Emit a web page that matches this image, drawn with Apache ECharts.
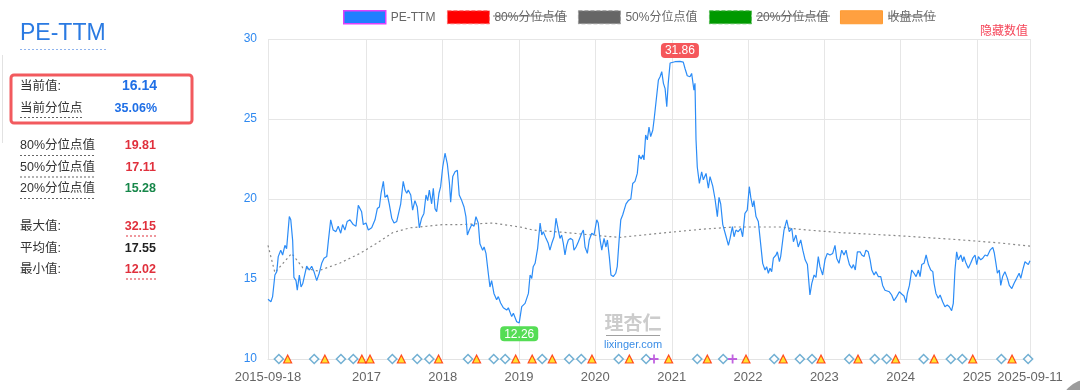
<!DOCTYPE html>
<html>
<head>
<meta charset="utf-8">
<script src="https://cdn.jsdelivr.net/npm/echarts@6/dist/echarts.min.js"></script>
<style>
html,body{margin:0;padding:0;background:#fff;}
#chart{width:1080px;height:390px;}
</style>
</head>
<body>
<div id="chart"></div>
<script>
// ---------------- data ----------------
const START_DATE = '2015-09-18';
const END_DATE = '2025-09-11';
const BASE_VALUE = 10;
const MAX_LABEL = '31.86';
const MIN_LABEL = '12.26';

const legendNames = ['PE-TTM', '80%分位点值', '50%分位点值', '20%分位点值', '收盘点位'];
const yTicks = [10, 15, 20, 25, 30];
const xTickDates = ['2015-09-18','2017-01-01','2018-01-01','2019-01-01','2020-01-01','2021-01-01','2022-01-01','2023-01-01','2024-01-01','2025-01-01','2025-09-11'];
const xTickLabels = ['2015-09-18','2017','2018','2019','2020','2021','2022','2023','2024','2025','2025-09-11'];

// PE-TTM: [days since START_DATE, value]
const peData = [[0,13.73],[14,13.58],[22,13.9],[33,15.25],[42,15.46],[49,16.4],[61,16.8],[70,16.5],[81,17.1],[89,16.9],[102,18.9],[109,18.7],[118,17.4],[124,15.1],[134,14.9],[140,14.3],[150,15.25],[158,14.5],[166,14.7],[174,14.6],[185,15.8],[198,15.56],[209,15.8],[220,15.46],[233,14.9],[245,15.36],[257,15.98],[268,16.3],[281,16.4],[289,17.4],[300,18.7],[312,18.06],[325,17.96],[336,18.3],[348,17.86],[357,18.4],[368,18.06],[379,18.6],[392,18.7],[408,18.4],[421,18.3],[432,19.6],[440,19.7],[448,19.2],[456,18.4],[469,18.5],[480,18.06],[496,18.2],[512,18.7],[523,19.4],[533,19.5],[541,20.36],[552,21.1],[560,20.1],[571,20.25],[580,19.7],[592,18.8],[603,18.5],[616,18.6],[623,18.7],[635,19.7],[647,21.1],[656,20.56],[664,20.36],[671,20.56],[683,20.25],[692,19.3],[703,19.9],[714,19.5],[724,18.2],[735,18.8],[746,19.1],[756,20.25],[764,19.9],[772,20.56],[783,19.7],[791,20.67],[799,19.4],[807,19.2],[818,20.36],[826,20.77],[836,22.0],[847,22.86],[858,22.2],[868,21.0],[874,19.8],[884,21.4],[895,21.7],[906,21.8],[915,20.25],[927,19.9],[938,19.5],[947,18.9],[954,17.75],[963,18.06],[975,18.4],[986,18.3],[995,18.9],[1006,18.5],[1014,17.2],[1027,16.8],[1034,17.0],[1043,16.6],[1054,15.36],[1062,14.5],[1070,14.9],[1081,14.1],[1094,13.7],[1102,13.9],[1113,13.5],[1126,13.2],[1142,13.06],[1150,13.2],[1166,12.65],[1174,12.86],[1190,12.33],[1202,12.26],[1214,13.27],[1230,13.48],[1246,14.1],[1254,15.25],[1262,15.04],[1269,15.77],[1278,15.98],[1286,16.6],[1290,16.9],[1298,17.0],[1302,18.5],[1310,17.75],[1317,17.96],[1330,17.54],[1341,17.23],[1349,16.8],[1358,17.23],[1369,17.64],[1378,18.8],[1389,18.06],[1397,17.54],[1405,17.75],[1413,17.23],[1421,16.5],[1429,17.1],[1437,17.44],[1448,17.54],[1458,17.44],[1464,16.8],[1474,17.0],[1485,17.33],[1493,17.23],[1501,17.86],[1509,18.06],[1517,17.0],[1528,16.6],[1537,17.44],[1549,17.86],[1560,17.75],[1573,18.7],[1580,18.5],[1589,17.44],[1597,16.8],[1608,17.54],[1617,17.0],[1624,17.44],[1633,16.4],[1641,15.25],[1652,15.15],[1664,15.36],[1671,15.77],[1680,17.44],[1688,18.7],[1697,19.0],[1705,18.9],[1713,19.7],[1724,19.9],[1736,20.0],[1745,20.97],[1756,21.1],[1767,21.6],[1775,22.75],[1785,22.5],[1793,22.75],[1799,22.44],[1807,24.0],[1815,23.7],[1823,24.5],[1831,23.9],[1841,24.3],[1848,25.04],[1857,24.94],[1868,27.44],[1876,27.64],[1884,27.96],[1892,27.23],[1900,26.9],[1908,25.77],[1915,27.23],[1924,28.5],[1932,28.55],[1947,28.58],[1971,28.6],[1987,28.55],[1995,28.17],[2006,27.7],[2019,27.64],[2027,27.85],[2038,26.8],[2043,27.23],[2048,23.7],[2054,22.0],[2064,20.97],[2075,21.7],[2083,21.2],[2096,21.6],[2107,20.67],[2115,21.4],[2128,20.8],[2139,20.0],[2150,18.9],[2158,20.1],[2166,19.7],[2176,18.4],[2183,18.5],[2192,17.64],[2203,17.1],[2211,17.54],[2222,18.27],[2230,17.64],[2239,18.06],[2250,17.96],[2262,18.17],[2271,17.64],[2282,19.1],[2293,19.3],[2303,20.77],[2310,20.1],[2319,19.5],[2325,19.9],[2335,18.9],[2346,18.6],[2354,17.6],[2367,15.98],[2378,15.56],[2386,15.77],[2394,15.36],[2402,15.67],[2410,15.46],[2418,16.3],[2431,16.5],[2437,16.7],[2447,16.08],[2453,16.4],[2461,16.3],[2469,18.06],[2482,18.7],[2494,17.96],[2506,18.17],[2514,17.33],[2526,17.75],[2537,17.0],[2549,17.44],[2559,16.8],[2570,16.2],[2581,15.9],[2593,14.0],[2602,14.73],[2613,15.25],[2622,15.1],[2633,16.4],[2641,15.77],[2654,15.25],[2665,16.2],[2676,16.6],[2689,16.5],[2702,16.6],[2713,17.1],[2721,16.3],[2732,15.98],[2745,16.8],[2756,16.5],[2766,16.8],[2772,16.4],[2782,15.9],[2793,15.67],[2801,15.9],[2810,15.56],[2820,16.7],[2833,16.7],[2841,16.5],[2852,16.4],[2861,16.8],[2872,16.7],[2881,16.2],[2889,15.56],[2900,15.25],[2909,15.46],[2920,15.15],[2932,15.15],[2941,14.6],[2952,14.3],[2960,14.2],[2973,14.2],[2984,14.0],[2995,13.64],[3008,13.9],[3021,14.2],[3032,14.06],[3043,13.94],[3053,13.52],[3059,14.1],[3069,14.6],[3080,15.56],[3091,15.36],[3101,15.15],[3112,15.56],[3120,15.15],[3128,15.9],[3139,15.98],[3149,16.5],[3160,15.9],[3171,15.56],[3181,15.46],[3187,14.73],[3196,14.1],[3207,13.8],[3216,14.0],[3228,13.58],[3239,13.27],[3250,13.38],[3260,13.27],[3271,13.02],[3279,13.48],[3287,15.56],[3295,16.7],[3303,16.2],[3315,16.5],[3324,16.08],[3330,16.4],[3340,15.98],[3351,15.67],[3362,15.98],[3372,16.3],[3383,16.5],[3391,15.9],[3399,16.4],[3410,16.2],[3420,16.3],[3431,16.5],[3442,16.44],[3455,16.8],[3468,16.98],[3475,16.64],[3483,15.98],[3490,15.36],[3499,15.56],[3506,14.6],[3515,15.15],[3526,15.46],[3538,15.04],[3547,14.6],[3559,14.4],[3570,14.73],[3582,15.04],[3594,15.36],[3602,15.04],[3611,15.56],[3622,16.08],[3630,16.2],[3638,15.9],[3646,16.14]];

// 50% quantile line: [days since START_DATE, value]
const midData = [[0,17.1],[33,15.4],[113,16.6],[167,15.7],[239,15.5],[345,16.0],[440,16.6],[522,17.25],[598,17.9],[679,18.2],[761,18.3],[837,18.4],[919,18.4],[1077,18.5],[1206,18.25],[1268,18.06],[1431,17.9],[1589,17.7],[1684,17.6],[1909,17.9],[2067,18.1],[2225,18.25],[2450,18.25],[2546,18.1],[2737,17.9],[3024,17.7],[3311,17.45],[3503,17.25],[3646,17.06]];

// event markers on the bottom line
const reportDates = ['2015-11-09','2016-04-26','2016-09-01','2016-10-30','2017-05-05','2017-09-01','2017-10-29','2018-05-02','2018-09-02','2018-10-27','2019-04-22','2019-08-29','2019-10-26','2020-04-22','2020-08-31','2021-05-03','2021-09-04','2022-05-06','2022-09-06','2022-11-03','2023-04-30','2023-08-30','2023-10-26','2024-04-20','2024-08-28','2024-10-22','2025-04-27','2025-09-02'];
const dividendDates = ['2015-12-21','2016-06-16','2016-12-10','2017-01-18','2017-06-17','2017-12-12','2018-06-12','2018-12-16','2019-03-05','2019-06-09','2019-12-16','2020-06-12','2020-12-17','2021-06-20','2021-12-22','2022-06-18','2022-12-16','2023-06-11','2023-12-08','2024-06-09','2024-12-11','2025-06-17'];
const otherDates = ['2020-10-08','2021-10-19'];

// left panel stats
const panelTop = [['当前值:', '16.14'], ['当前分位点', '35.06%']];
const panelQuant = [['80%分位点值', '19.81'], ['50%分位点值', '17.11'], ['20%分位点值', '15.28']];
const panelStats = [['最大值:', '32.15'], ['平均值:', '17.55'], ['最小值:', '12.02']];

// ---------------- helpers ----------------
const DAY = 86400000;
function parseDate(s) { const p = s.split('-').map(Number); return Date.UTC(p[0], p[1] - 1, p[2]); }
const startTs = parseDate(START_DATE);
const endTs = parseDate(END_DATE);
const toTs = d => startTs + d * DAY;
const xTickTs = xTickDates.map(parseDate);

const FONT = "'Liberation Sans', Arial, 'Noto Sans CJK SC', sans-serif";

// ---------------- graphics (left panel, decorations) ----------------
const g = [];
function txt(x, y, text, fill, font, align) {
  g.push({ type: 'text', silent: true, style: { x: x, y: y, text: text, fill: fill, font: font, textAlign: align || 'left', textVerticalAlign: 'middle' } });
}
function ln(x1, y1, x2, y2, stroke, dash, w) {
  g.push({ type: 'line', silent: true, shape: { x1: x1, y1: y1, x2: x2, y2: y2 }, style: { stroke: stroke, lineWidth: w || 1, lineDash: dash || null } });
}
txt(20, 34, 'PE-TTM', '#2a7ae2', "23px " + FONT);
ln(20, 49.5, 106, 49.5, '#8fb4ee', [2, 2]);
ln(2.5, 55, 2.5, 143, '#e2e2e2');
g.push({ type: 'rect', silent: true, shape: { x: 11, y: 75, width: 181, height: 48, r: 3 }, style: { fill: 'none', stroke: '#f25a5e', lineWidth: 3 } });
const labFont = "12.5px " + FONT;
txt(20, 87, panelTop[0][0], '#333', labFont);
txt(157, 86, panelTop[0][1], '#1f6fe6', "bold 14px " + FONT, 'right');
txt(20, 109, panelTop[1][0], '#333', labFont);
ln(20, 117.5, 83, 117.5, '#666', [2, 2]);
txt(157, 109, panelTop[1][1], '#1f6fe6', "bold 12.5px " + FONT, 'right');
const qColors = ['#e0303c', '#e0303c', '#17874a'];
panelQuant.forEach((r, i) => {
  const y = 146 + i * 21.5;
  txt(20, y, r[0], '#333', labFont);
  ln(20, y + 9.5, 94, y + 9.5, '#666', [2, 2]);
  txt(156, y, r[1], qColors[i], "bold 12.5px " + FONT, 'right');
});
const sColors = ['#e0303c', '#222', '#e0303c'];
panelStats.forEach((r, i) => {
  const y = 227 + i * 21.5;
  txt(20, y, r[0], '#333', labFont);
  txt(156, y, r[1], sColors[i], "bold 12.5px " + FONT, 'right');
  if (i !== 1) ln(126, y + 9, 156, y + 9, '#e0303c', [2, 2]);
});
txt(1028, 32, '隐藏数值', '#f5475a', "12px " + FONT, 'right');
txt(633, 325, '理杏仁', '#cccccc', "bold 19px " + FONT, 'center');
ln(606, 335.5, 660, 335.5, '#a0a0a0');
txt(633, 345, 'lixinger.com', '#3a8de6', "11px " + FONT, 'center');
g.push({ type: 'circle', silent: true, shape: { cx: 1090, cy: 410, r: 31 }, style: { fill: '#9c9c9c' } });
ln(493, 16, 567, 16, '#777');
ln(756, 16, 830, 16, '#777');
ln(888, 16, 936, 16, '#777');

// ---------------- chart ----------------
const chart = echarts.init(document.getElementById('chart'), null, { renderer: 'canvas' });
const option = {
  animation: false,
  backgroundColor: '#fff',
  textStyle: { fontFamily: FONT },
  legend: {
    left: 343, top: 10, padding: 0, itemGap: 11.5, itemWidth: 42, itemHeight: 13,
    textStyle: { color: '#666', fontSize: 12 },
    selectedMode: false,
    data: [
      { name: legendNames[0], icon: 'rect', itemStyle: { color: '#1f7fff', borderColor: '#e040fb', borderWidth: 1.5 } },
      { name: legendNames[1], icon: 'rect', itemStyle: { color: '#ff0000', borderColor: '#ff6666', borderWidth: 1, borderType: 'dashed' } },
      { name: legendNames[2], icon: 'rect', itemStyle: { color: '#666666', borderColor: '#999999', borderWidth: 1, borderType: 'dashed' } },
      { name: legendNames[3], icon: 'rect', itemStyle: { color: '#009900', borderColor: '#55bb55', borderWidth: 1, borderType: 'dashed' } },
      { name: legendNames[4], icon: 'rect', itemStyle: { color: '#ffa040', borderColor: '#ff9a30', borderWidth: 1 } }
    ]
  },
  grid: { left: 268, right: 50, top: 39, bottom: 31, containLabel: false },
  xAxis: {
    type: 'value', min: startTs, max: endTs, scale: true,
    axisLine: { show: true, lineStyle: { color: '#e3e3e3' } },
    axisTick: { show: false, customValues: xTickTs },
    splitLine: { show: true, lineStyle: { color: '#e6e6e6', width: 1 } },
    axisLabel: {
      customValues: xTickTs, color: '#666', fontSize: 13, margin: 12,
      formatter: function (v) {
        const i = xTickTs.findIndex(t => Math.abs(t - v) < DAY / 2);
        return i >= 0 ? xTickLabels[i] : '';
      }
    }
  },
  yAxis: {
    type: 'value', min: yTicks[0], max: yTicks[yTicks.length - 1], interval: yTicks[1] - yTicks[0],
    axisLine: { show: false }, axisTick: { show: false },
    splitLine: { show: true, lineStyle: { color: '#e6e6e6' } },
    axisLabel: { color: '#2f89f0', fontSize: 12, margin: 11 }
  },
  series: [
    {
      name: legendNames[0], type: 'line', showSymbol: false, symbol: 'none', z: 3,
      data: peData.map(p => [toTs(p[0]), p[1]]),
      lineStyle: { color: '#2b8cf7', width: 1.2 }, itemStyle: { color: '#2b8cf7' },
      markPoint: {
        symbol: 'circle', symbolSize: 1, itemStyle: { color: 'rgba(0,0,0,0)' },
        label: { show: true, color: '#fff', fontSize: 12, padding: [2, 4, 1, 4], borderRadius: 4, distance: 3 },
        data: [
          { type: 'max', label: { position: 'top', backgroundColor: '#f5575b', formatter: () => MAX_LABEL } },
          { type: 'min', label: { position: 'bottom', backgroundColor: '#55dd55', formatter: () => MIN_LABEL } }
        ]
      }
    },
    { name: legendNames[1], type: 'line', data: [], itemStyle: { color: '#ff0000' } },
    {
      name: legendNames[2], type: 'line', showSymbol: false, symbol: 'none', z: 2,
      data: midData.map(p => [toTs(p[0]), p[1]]),
      lineStyle: { color: '#888', width: 1.2, type: [2, 3] }, itemStyle: { color: '#666' }
    },
    { name: legendNames[3], type: 'line', data: [], itemStyle: { color: '#009900' } },
    { name: legendNames[4], type: 'line', data: [], itemStyle: { color: '#ffa040' } },
    {
      name: 'report', type: 'scatter', symbol: 'diamond', symbolSize: 9, z: 5,
      data: reportDates.map(d => [parseDate(d), BASE_VALUE]),
      itemStyle: { color: '#fff', borderColor: '#4f9cc8', borderWidth: 1.5 }
    },
    {
      name: 'dividend', type: 'scatter', symbol: 'triangle', symbolSize: 8, z: 5,
      data: dividendDates.map(d => [parseDate(d), BASE_VALUE]),
      itemStyle: { color: '#ffdd00', borderColor: '#ff2200', borderWidth: 1.2 }
    },
    {
      name: 'other', type: 'scatter', symbol: 'path://M4,0H6V4H10V6H6V10H4V6H0V4H4Z', symbolSize: 9, z: 5,
      data: otherDates.map(d => [parseDate(d), BASE_VALUE]),
      itemStyle: { color: '#b23cd8' }
    }
  ],
  graphic: { elements: g }
};
chart.setOption(option);
</script>
</body>
</html>
